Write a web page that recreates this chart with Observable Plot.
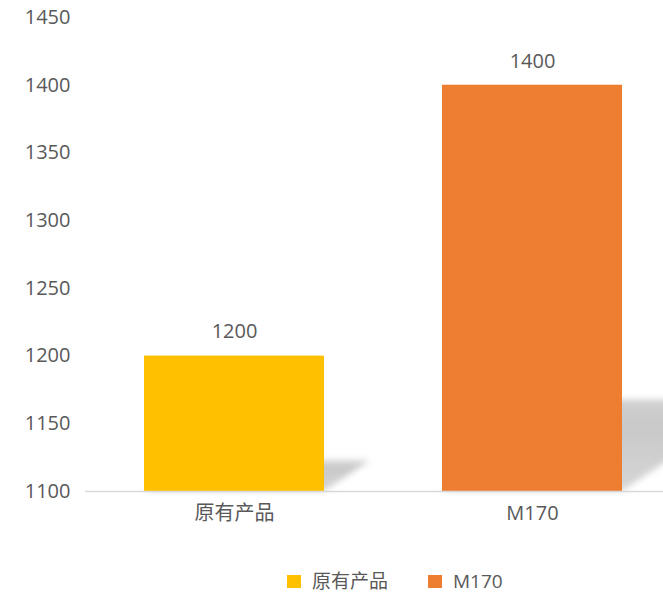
<!DOCTYPE html>
<html>
<head>
<meta charset="utf-8">
<script src="https://cdn.jsdelivr.net/npm/d3@7"></script>
<script src="https://cdn.jsdelivr.net/npm/@observablehq/plot@0.6"></script>
<style>
  body { margin: 0; background: #fff; overflow: hidden; }
  #legend { display: flex; align-items: center; margin-left: 287px; margin-top: 11px; height: 20px;
    font-family: "Open Sans", "Noto Sans CJK SC", sans-serif; font-size: 19px; color: #595959; }
  .sw { width: 14px; height: 13px; display: inline-block; margin-right: 11px; flex: none; }
  .item { display: flex; align-items: center; margin-right: 40px; line-height: 20px; height: 20px; white-space: nowrap; }
</style>
</head>
<body>
<div id="chart"></div>
<div id="legend"></div>
<script>
const categories = ["原有产品", "M170"];
const values = [1200, 1400];
const colors = ["#FFC000", "#ED7D31"];
const yTicks = [1100, 1150, 1200, 1250, 1300, 1350, 1400, 1450];

const data = categories.map((c, i) => ({ category: c, value: values[i], color: colors[i] }));
const font = '"Open Sans", "Noto Sans CJK SC", sans-serif';

const chart = Plot.plot({
  width: 663,
  height: 560,
  marginLeft: 85,
  marginRight: 0,
  marginTop: 17,
  marginBottom: 69,
  style: { fontFamily: font, fontSize: "20px", color: "#595959", background: "#fff" },
  x: { domain: categories, range: [85, 681], paddingInner: 0.396, paddingOuter: 0.198, label: null },
  y: { domain: [1100, 1450], range: [491, 17], label: null },
  marks: [
    Plot.axisY({ ticks: yTicks, tickFormat: d => String(d), tickSize: 0, tickPadding: 15, fill: "#595959", fontSize: 20, label: null }),
    Plot.axisX({ tickSize: 0, tickPadding: 14, fill: "#595959", fontSize: 20, label: null }),
    Plot.barY(data, { x: "category", y1: 1100, y2: "value", fill: "color" }),
    Plot.ruleY([1100], { stroke: "#d9d9d9", strokeWidth: 1.5 }),
    Plot.text(data, { x: "category", y: "value", text: d => String(d.value), dy: -24, fill: "#595959", fontSize: 20 })
  ]
});

document.getElementById("chart").appendChild(chart);

// perspective shadows behind bars, positioned through Plot's scales
const xs = chart.scale("x"), ys = chart.scale("y");
const xApply = v => xs.apply(v);
const yApply = v => ys.apply(v);
const ns = "http://www.w3.org/2000/svg";
const svg = d3.select(chart.tagName === "svg" ? chart : chart.querySelector("svg"));
const defs = svg.append("defs");
defs.append("filter").attr("id", "shblur").attr("x", "-20%").attr("y", "-20%").attr("width", "140%").attr("height", "140%")
  .append("feGaussianBlur").attr("stdDeviation", 3);
const grad = defs.append("linearGradient").attr("id", "shgrad").attr("x1", 0).attr("y1", 1).attr("x2", 0).attr("y2", 0);
grad.append("stop").attr("offset", "0%").attr("stop-color", "#d6d6d6");
grad.append("stop").attr("offset", "70%").attr("stop-color", "#c9c9c9");
grad.append("stop").attr("offset", "100%").attr("stop-color", "#d0d0d0");

const barG = svg.node().querySelector('g[aria-label="bar"]');
const shadowG = document.createElementNS(ns, "g");
shadowG.setAttribute("aria-label", "shadow");
barG.parentNode.insertBefore(shadowG, barG);
const bw = xs.bandwidth;
data.forEach(d => {
  const x0 = xApply(d.category), x1 = x0 + bw;
  const yb = yApply(1100), yt = yApply(d.value);
  const h = yb - yt, dy = 0.225 * h, dx = 1.5 * dy;
  const p = document.createElementNS(ns, "polygon");
  p.setAttribute("points", `${x0},${yb} ${x1},${yb} ${x1 + dx},${yb - dy} ${x0 + dx},${yb - dy}`);
  p.setAttribute("fill", "url(#shgrad)");
  p.setAttribute("filter", "url(#shblur)");
  shadowG.appendChild(p);
});

const legend = document.getElementById("legend");
categories.forEach((c, i) => {
  const it = document.createElement("div");
  it.className = "item";
  it.innerHTML = `<span class="sw" style="background:${colors[i]}"></span><span>${c}</span>`;
  legend.appendChild(it);
});
</script>
</body>
</html>
